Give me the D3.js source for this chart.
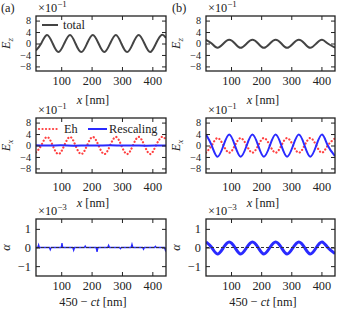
<!DOCTYPE html>
<html><head><meta charset="utf-8">
<script src="https://cdn.jsdelivr.net/npm/d3@7"></script>
<style>
body{margin:0;background:#fff}
svg{display:block}
text{font-family:"Liberation Serif","Times New Roman",serif;fill:#222}
</style>
</head><body>
<svg id="c" width="339" height="315"></svg>
<script>
// ---------- data ----------
const xTicks = [100, 200, 300, 400];
const eTicks = [8, 4, 0, -4, -8];
const aTicks = [1, 0, -1];
const xDomain = [17, 445];
const eDomain = [-9.6, 9.6];
const aDomain = [-1.53, 1.53];

// column (a): x positions and values (E in units of 1e-1)
const xA = [17, 34, 53, 72, 91, 110, 129, 147, 166, 185, 204, 223, 242, 261, 280, 298, 317, 336, 355, 374, 393, 412, 431, 445];
const totalA = [-2.4, 0, 3, 0, -3, 0, 3, 0, -3, 0, 3, 0, -3, 0, 3, 0, -3, 0, 3, 0, -3, 0, 3, 1.9];
const ehA = [-2.4, 0, 3, 0, -3, 0, 3, 0, -3, 0, 3, 0, -3, 0, 3, 0, -3, 0, 3, 0, -3, 0, 3, 1.9];
const rescAx = [17, 60, 100, 140, 180, 220, 260, 300, 340, 380, 420, 445];
const rescA = [0.1, 0, 0.05, -0.05, 0, 0, 0.05, 0, 0, -0.05, 0, 0];

// column (b)
const xB = [17, 36, 55, 75, 94, 113, 132, 152, 171, 190, 209, 229, 248, 267, 286, 306, 325, 344, 363, 383, 402, 421, 445];
const totalB = [1.3, 0, -1.5, 0, 1.3, 0, -1.5, 0, 1.3, 0, -1.5, 0, 1.3, 0, -1.5, 0, 1.3, 0, -1.5, 0, 1.3, 0, -1.4];
const ehB = [-2.5, 0, 2.6, 0, -2.5, 0, 2.6, 0, -2.5, 0, 2.6, 0, -2.5, 0, 2.6, 0, -2.5, 0, 2.6, 0, -2.5, 0, 2.5];
const rescB = [3.8, 0, -3.9, 0, 3.8, 0, -3.9, 0, 3.8, 0, -3.9, 0, 3.8, 0, -3.9, 0, 3.8, 0, -3.9, 0, 3.8, 0, -3.7];

// alpha in units of 1e-3
const alphaAx = [17, 23, 25.6, 28, 61, 64, 67, 100, 102.6, 105, 138, 141, 144, 176, 179, 182, 215, 218, 221, 253, 256, 259, 292, 295, 298, 330, 333, 336, 368, 371, 374, 407, 410, 413, 440, 443, 445];
const alphaA = [0, 0, 0.14, 0, 0, -0.12, 0, 0, 0.23, 0, 0, -0.15, 0, 0, 0.08, 0, 0, -0.23, 0, 0, 0.12, 0, 0, -0.06, 0, 0, 0.18, 0, 0, -0.1, 0, 0, 0.06, 0, 0, -0.15, -0.05];
const alphaB = [0.3, 0, -0.35, 0, 0.3, 0, -0.35, 0, 0.3, 0, -0.35, 0, 0.3, 0, -0.35, 0, 0.3, 0, -0.35, 0, 0.3, 0, -0.33];

// ---------- layout ----------
const svg = d3.select("#c");
const cols = [{x: 36, w: 130}, {x: 206, w: 129}];
const rows = [{y: 16, h: 55, lab: 81, xl: 100}, {y: 118, h: 55, lab: 187, xl: 203}, {y: 219, h: 57, lab: 286, xl: 302}];
const colors = {total: "#444", eh: "#ff4040", resc: "#2a2aff"};
const FS = 12.3;

function panel(ci, ri, yDomain, yTicks, yFmt, series, opts) {
  const c = cols[ci], r = rows[ri];
  const x = d3.scaleLinear().domain(xDomain).range([c.x, c.x + c.w]);
  const y = d3.scaleLinear().domain(yDomain).range([r.y + r.h, r.y]);
  const g = svg.append("g");
  const clipId = "clip" + ci + ri;
  svg.append("clipPath").attr("id", clipId).append("rect")
    .attr("x", c.x).attr("y", r.y).attr("width", c.w).attr("height", r.h);

  const lines = g.append("g").attr("clip-path", `url(#${clipId})`);
  series.forEach(s => {
    const line = d3.line().x((d, i) => x(s.x[i])).y(d => y(d)).curve(s.curve || d3.curveNatural);
    lines.append("path").attr("d", line(s.y)).attr("fill", "none")
      .attr("stroke", s.color).attr("stroke-width", s.w || 2)
      .attr("stroke-dasharray", s.dash || null)
      .attr("stroke-linecap", s.dash ? "round" : "butt");
  });
  if (opts.zeroLineTop) {
    g.append("line").attr("x1", c.x).attr("x2", c.x + c.w).attr("y1", y(0)).attr("y2", y(0))
      .attr("stroke", "#333").attr("stroke-width", 1).attr("stroke-dasharray", "3,2");
  }

  // axes (inward ticks on all four sides)
  const ax = (axis, tx, ty, labels, fs) => {
    const a = g.append("g").attr("transform", `translate(${tx},${ty})`).call(axis);
    a.select(".domain").remove();
    a.selectAll("line").attr("stroke", "#222").attr("stroke-width", 1);
    if (!labels) a.selectAll("text").remove();
    else a.selectAll("text").attr("font-size", fs).attr("fill", "#222").attr("font-family", '"Liberation Serif",serif');
    return a;
  };
  ax(d3.axisBottom(x).tickValues(xTicks).tickSize(-4).tickPadding(r.lab - (r.y + r.h) - 4.5), 0, r.y + r.h, true, FS);
  ax(d3.axisTop(x).tickValues(xTicks).tickSize(-4), 0, r.y, false);
  ax(d3.axisLeft(y).tickValues(yTicks).tickSize(-4).tickPadding(5).tickFormat(yFmt), c.x, 0, true, yTicks.length > 3 ? 10.2 : FS);
  ax(d3.axisRight(y).tickValues(yTicks).tickSize(-4), c.x + c.w, 0, false);

  g.append("rect").attr("x", c.x).attr("y", r.y).attr("width", c.w).attr("height", r.h)
    .attr("fill", "none").attr("stroke", "#222").attr("stroke-width", 1.3);

  // multiplier
  const m = g.append("text").attr("x", c.x + 2).attr("y", r.y - 4).attr("font-size", FS);
  m.append("tspan").text("×10");
  m.append("tspan").attr("dy", -5).attr("font-size", 9).text(opts.exp);

  // y label
  const yl = g.append("text").attr("transform", `translate(${c.x - 26},${r.y + r.h / 2}) rotate(-90)`)
    .attr("text-anchor", "middle").attr("font-size", FS);
  if (opts.ylab === "alpha") {
    yl.attr("font-style", "italic").text("α");
  } else {
    yl.append("tspan").attr("font-style", "italic").text("E");
    yl.append("tspan").attr("font-style", "italic").attr("font-size", 9).attr("dy", 3).text(opts.ylab);
  }

  // x label
  const xl = g.append("text").attr("x", c.x + 57).attr("y", r.xl).attr("dy", "0.35em")
    .attr("text-anchor", "middle").attr("font-size", FS);
  if (opts.xlab === "ct") {
    xl.append("tspan").text("450 − ");
    xl.append("tspan").attr("font-style", "italic").text("ct");
    xl.append("tspan").text(" [nm]");
  } else {
    xl.append("tspan").attr("font-style", "italic").text("x");
    xl.append("tspan").text(" [nm]");
  }
  return {x, y, g, c, r};
}

const fmt = d => d < 0 ? "−" + Math.abs(d) : String(d);

// row 1
panel(0, 0, eDomain, eTicks, fmt, [{x: xA, y: totalA, color: colors.total}], {exp: "−1", ylab: "z"});
panel(1, 0, eDomain, eTicks, fmt, [{x: xB, y: totalB, color: colors.total}], {exp: "−1", ylab: "z"});
// row 2
panel(0, 1, eDomain, eTicks, fmt, [
  {x: xA, y: ehA, color: colors.eh, dash: "0.1,3.4", w: 2.2},
  {x: rescAx, y: rescA, color: colors.resc, w: 2}], {exp: "−1", ylab: "x"});
panel(1, 1, eDomain, eTicks, fmt, [
  {x: xB, y: ehB, color: colors.eh, dash: "0.1,3.4", w: 2.2},
  {x: xB, y: rescB, color: colors.resc, w: 2}], {exp: "−1", ylab: "x"});
// row 3
panel(0, 2, aDomain, aTicks, fmt, [{x: alphaAx, y: alphaA, color: colors.resc, w: 1.3, curve: d3.curveLinear}], {exp: "−3", ylab: "alpha", xlab: "ct", zeroLineTop: true});
panel(1, 2, aDomain, aTicks, fmt, [{x: xB, y: alphaB, color: colors.resc, w: 3}], {exp: "−3", ylab: "alpha", xlab: "ct", zeroLineTop: true});

// legends
function legLine(x1, x2, yy, color, dash, w) {
  svg.append("line").attr("x1", x1).attr("x2", x2).attr("y1", yy).attr("y2", yy)
    .attr("stroke", color).attr("stroke-width", w).attr("stroke-dasharray", dash || null)
    .attr("stroke-linecap", dash ? "round" : "butt");
}
function legText(xx, yy, t) {
  svg.append("text").attr("x", xx).attr("y", yy).attr("dy", "0.35em").attr("font-size", FS).text(t);
}
legLine(42, 58, 25, colors.total, null, 2);
legText(63, 25, "total");
legLine(39, 58, 129, colors.eh, "0.1,3.4", 2.2);
legText(64, 129, "Eh");
legLine(88, 107, 129, colors.resc, null, 2);
legText(109, 129, "Rescaling");

// panel letters
svg.append("text").attr("x", 1).attr("y", 8).attr("dy", "0.35em").attr("font-size", FS).text("(a)");
svg.append("text").attr("x", 172).attr("y", 8).attr("dy", "0.35em").attr("font-size", FS).text("(b)");
</script>
</body></html>
